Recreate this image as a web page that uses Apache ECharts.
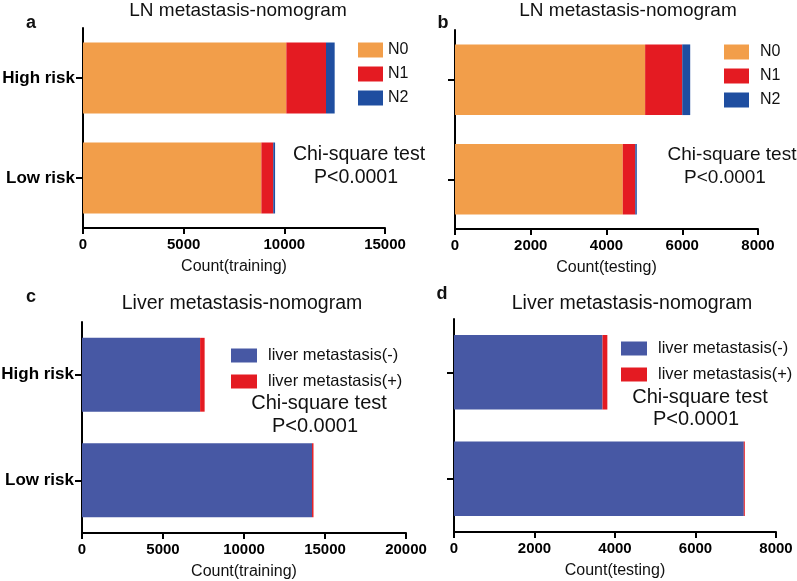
<!DOCTYPE html>
<html>
<head>
<meta charset="utf-8">
<script src="https://cdn.jsdelivr.net/npm/echarts@6/dist/echarts.min.js"></script>
<style>
  html, body { margin: 0; padding: 0; background: #fff; }
  #chart { width: 797px; height: 581px; }
</style>
</head>
<body>
<div id="chart"></div>
<script>
  // categories and values
  var categories = ['High risk', 'Low risk'];

  // a: LN, training
  var lnTrainN0 = [10100, 8860];
  var lnTrainN1 = [1970, 590];
  var lnTrainN2 = [430, 90];
  // b: LN, testing
  var lnTestN0 = [5020, 4430];
  var lnTestN1 = [980, 330];
  var lnTestN2 = [210, 40];
  // c: liver, training
  var liverTrainNeg = [7290, 14200];
  var liverTrainPos = [280, 90];
  // d: liver, testing
  var liverTestNeg = [3690, 7200];
  var liverTestPos = [120, 25];

  var axisMax = [15000, 8000, 20000, 8000];
  var axisStep = [5000, 2000, 5000, 2000];
  var axisNames = ['Count(training)', 'Count(testing)', 'Count(training)', 'Count(testing)'];

  var FONT = 'Liberation Sans, Arial, Helvetica, sans-serif';
  var ORANGE = '#F29E4A';
  var RED = '#E41B22';
  var DARKBLUE = '#1F4EA0';
  var LIVERBLUE = '#4758A4';

  var grids = [
    { left: 83, top: 28, width: 302, height: 200 },
    { left: 455, top: 30, width: 303, height: 199 },
    { left: 82, top: 322, width: 324, height: 211 },
    { left: 454, top: 319, width: 322, height: 213 }
  ].map(function (g) {
    g.containLabel = false;
    g.outerBoundsMode = 'none';
    return g;
  });

  var xAxes = grids.map(function (g, i) {
    return {
      type: 'value', gridIndex: i, min: 0, max: axisMax[i], interval: axisStep[i],
      name: axisNames[i], nameLocation: 'middle', nameGap: 31,
      nameTextStyle: { fontFamily: FONT, fontSize: 16, color: '#111' },
      axisLine: { show: true, lineStyle: { color: '#000', width: 2 } },
      axisTick: { show: true, length: 6, lineStyle: { color: '#000', width: 2 } },
      axisLabel: {
        fontFamily: FONT, fontSize: 15, fontWeight: 'bold', color: '#000', margin: 9,
        formatter: function (v) { return String(v); }
      },
      splitLine: { show: false }
    };
  });

  var yAxes = grids.map(function (g, i) {
    return {
      type: 'category', gridIndex: i, data: categories, inverse: true,
      axisLine: { show: true, lineStyle: { color: '#000', width: 2 } },
      axisTick: { show: true, alignWithLabel: true, length: 7, lineStyle: { color: '#000', width: 2 } },
      axisLabel: { show: i % 2 === 0, fontFamily: FONT, fontSize: 17, fontWeight: 'bold', color: '#000', margin: 8 }
    };
  });

  function bar(name, data, color, idx, gap) {
    return {
      name: name, type: 'bar', stack: 'p' + idx, xAxisIndex: idx, yAxisIndex: idx,
      data: data, barCategoryGap: gap, itemStyle: { color: color },
      emphasis: { disabled: true }
    };
  }

  var series = [
    bar('N0', lnTrainN0, ORANGE, 0, '29%'),
    bar('N1', lnTrainN1, RED, 0, '29%'),
    bar('N2', lnTrainN2, DARKBLUE, 0, '29%'),
    bar('N0', lnTestN0, ORANGE, 1, '29%'),
    bar('N1', lnTestN1, RED, 1, '29%'),
    bar('N2', lnTestN2, DARKBLUE, 1, '29%'),
    bar('liver metastasis(-)', liverTrainNeg, LIVERBLUE, 2, '30%'),
    bar('liver metastasis(+)', liverTrainPos, RED, 2, '30%'),
    bar('liver metastasis(-)', liverTestNeg, LIVERBLUE, 3, '30%'),
    bar('liver metastasis(+)', liverTestPos, RED, 3, '30%')
  ];

  function legend(names, left, top, w, h, gap, pad, size) {
    return {
      data: names, orient: 'vertical', left: left, top: top,
      itemWidth: w, itemHeight: h, itemGap: gap, icon: 'rect',
      selectedMode: false,
      textStyle: { fontFamily: FONT, fontSize: size, color: '#111', padding: [0, 0, 0, pad] }
    };
  }

  function txt(s, x, y, size, bold) {
    return {
      type: 'text', x: x, y: y,
      style: {
        text: s, fontFamily: FONT, fontSize: size, fontWeight: bold ? 'bold' : 'normal',
        fill: '#111', textAlign: 'center', textVerticalAlign: 'middle',
        align: 'center', verticalAlign: 'middle'
      }
    };
  }

  var option = {
    backgroundColor: '#fff',
    animation: false,
    grid: grids,
    xAxis: xAxes,
    yAxis: yAxes,
    legend: [
      legend(['N0', 'N1', 'N2'], 353, 37, 25, 15, 8, 0, 16),
      legend(['N0', 'N1', 'N2'], 719, 39, 25, 15, 8, 6, 16),
      legend(['liver metastasis(-)', 'liver metastasis(+)'], 226, 342, 26, 14, 9, 6, 16.5),
      legend(['liver metastasis(-)', 'liver metastasis(+)'], 616, 335, 26, 14, 9, 6, 16.5)
    ],
    graphic: [
      txt('LN metastasis-nomogram', 238, 11, 19, false),
      txt('LN metastasis-nomogram', 628, 11, 19, false),
      txt('Liver metastasis-nomogram', 242, 304, 19.5, false),
      txt('Liver metastasis-nomogram', 632, 304, 19.5, false),
      txt('a', 31, 23, 18, true),
      txt('b', 443, 23, 18, true),
      txt('c', 31, 297, 18, true),
      txt('d', 442, 294, 18, true),
      txt('Chi-square test', 359, 155, 19.5, false),
      txt('P<0.0001', 356, 178, 19.5, false),
      txt('Chi-square test', 732, 155, 19, false),
      txt('P<0.0001', 725, 178, 19, false),
      txt('Chi-square test', 319, 403, 20, false),
      txt('P<0.0001', 315, 426, 20, false),
      txt('Chi-square test', 700, 397, 20, false),
      txt('P<0.0001', 696, 419, 20, false)
    ],
    series: series
  };

  var myChart = echarts.init(document.getElementById('chart'));
  myChart.setOption(option);
  window.addEventListener('resize', function () {
    myChart.resize();
  });
</script>
</body>
</html>
